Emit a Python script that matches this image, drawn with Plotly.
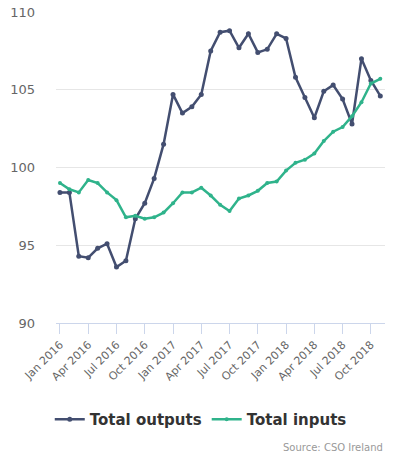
import plotly.graph_objects as go

months = []
for yr in (2016, 2017, 2018):
    for m in ["Jan", "Feb", "Mar", "Apr", "May", "Jun", "Jul", "Aug", "Sep", "Oct", "Nov", "Dec"]:
        months.append(f"{m} {yr}")
months = months[:35]

total_outputs = [98.4, 98.4, 94.3, 94.2, 94.8, 95.1, 93.6, 94.0, 96.7, 97.7, 99.3, 101.5,
                 104.7, 103.5, 103.9, 104.7, 107.5, 108.7, 108.8, 107.7, 108.6, 107.4, 107.6, 108.6,
                 108.3, 105.8, 104.5, 103.2, 104.9, 105.3, 104.4, 102.8, 107.0, 105.6, 104.6]
total_inputs = [99.0, 98.6, 98.4, 99.2, 99.0, 98.4, 97.9, 96.8, 96.9, 96.7, 96.8, 97.1,
                97.7, 98.4, 98.4, 98.7, 98.2, 97.6, 97.2, 98.0, 98.2, 98.5, 99.0, 99.1,
                99.8, 100.3, 100.5, 100.9, 101.7, 102.3, 102.6, 103.3, 104.2, 105.4, 105.7]

tick_labels = months[::3]
y_ticks = [90, 95, 100, 105, 110]

FONT = "DejaVu Sans"
c_out = "#434e70"
c_in = "#2fb38b"

fig = go.Figure()
fig.add_trace(go.Scatter(x=months, y=total_outputs, name="Total outputs", mode="lines+markers",
                         line=dict(color=c_out, width=2.5), marker=dict(size=5, color=c_out)))
fig.add_trace(go.Scatter(x=months, y=total_inputs, name="Total inputs", mode="lines+markers",
                         line=dict(color=c_in, width=2.5), marker=dict(size=4, color=c_in)))

fig.update_layout(
    width=393, height=460,
    margin=dict(l=56, r=8, t=12, b=137, autoexpand=False),
    paper_bgcolor="white", plot_bgcolor="white",
    font=dict(family=FONT, color="#666666"),
    showlegend=True,
    legend=dict(orientation="h", x=0.44, xanchor="center", y=-0.31, yanchor="middle",
                font=dict(family=FONT, size=15, color="#333333", weight="bold"),
                itemwidth=30, tracegroupgap=0),
    xaxis=dict(type="category", range=[-0.42, 34.5], tickvals=tick_labels, ticktext=tick_labels,
               tickangle=-45, tickfont=dict(size=11, color="#666666"), automargin=False,
               showline=True, linecolor="#ccd6eb", linewidth=1,
               ticks="outside", ticklen=10, tickcolor="#ccd6eb", showgrid=False, zeroline=False),
    yaxis=dict(range=[90, 110], tickvals=y_ticks, tickfont=dict(size=13, color="#666666"),
               gridcolor="#e6e6e6", gridwidth=1, zeroline=False, showline=False, ticks="",
               ticklabelstandoff=20, automargin=False),
    annotations=[dict(text="Source: CSO Ireland", x=1.0, xref="paper", xanchor="right",
                      y=-0.40, yref="paper", yanchor="middle", showarrow=False,
                      font=dict(family=FONT, size=10, color="#999999"))],
)

fig.write_html("out.html", config={"displayModeBar": False},
               post_script="document.body.style.margin='0';document.body.style.overflow='hidden';")
